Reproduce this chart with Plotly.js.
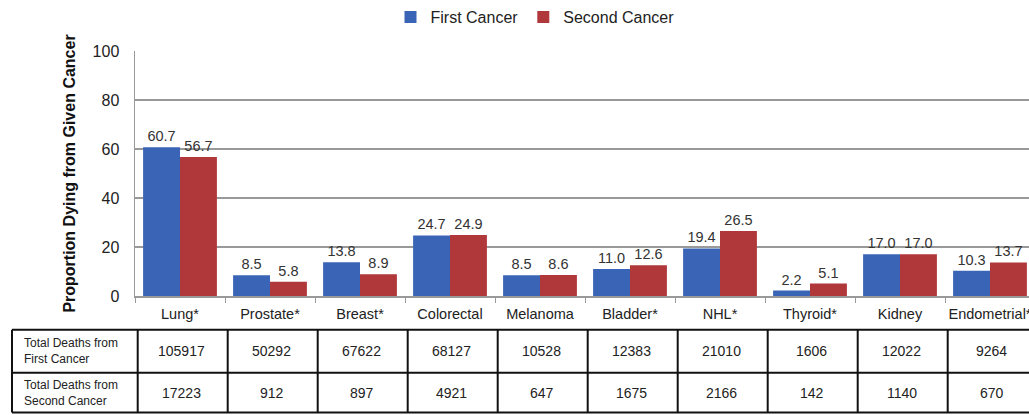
<!DOCTYPE html>
<html><head><meta charset="utf-8">
<script src="https://cdn.plot.ly/plotly-3.0.1.min.js"></script>
<style>html,body{margin:0;padding:0;background:#fff;overflow:hidden;}</style>
</head><body>
<div id="chart" style="width:1029px;height:415px;"></div>
<script>
const categories = ["Lung*", "Prostate*", "Breast*", "Colorectal", "Melanoma", "Bladder*", "NHL*", "Thyroid*", "Kidney", "Endometrial*"];
const firstCancer = [60.7, 8.5, 13.8, 24.7, 8.5, 11.0, 19.4, 2.2, 17.0, 10.3];
const secondCancer = [56.7, 5.8, 8.9, 24.9, 8.6, 12.6, 26.5, 5.1, 17.0, 13.7];
const deathsFirst = [105917, 50292, 67622, 68127, 10528, 12383, 21010, 1606, 12022, 9264];
const deathsSecond = [17223, 912, 897, 4921, 647, 1675, 2166, 142, 1140, 670];
const rowLabels = ["Total Deaths from<br>First Cancer", "Total Deaths from<br>Second Cancer"];
const seriesNames = ["First Cancer", "Second Cancer"];
const yTicks = [0, 20, 40, 60, 80, 100];

const W = 1029, H = 415;
const mL = 135, mT = 50, mB = 119;
const plotW = W - mL, plotH = H - mT - mB;
const catW = 90;
// pixel -> paper helpers
const py = yPx => (H - mB - yPx) / plotH;
const px = xPx => (xPx - mL) / plotW;

const FONT = "Liberation Sans, Arial, sans-serif";
const labelFont = {family: FONT, size: 14.5, color: "#333"};

const traces = [
  {type: "bar", name: seriesNames[0], x: categories, y: firstCancer,
   marker: {color: "#3A64B6"}, texttemplate: "%{y:.1f}", textposition: "outside",
   textfont: labelFont, cliponaxis: false, hoverinfo: "skip"},
  {type: "bar", name: seriesNames[1], x: categories, y: secondCancer,
   marker: {color: "#B0373A"}, texttemplate: "%{y:.1f}", textposition: "outside",
   textfont: labelFont, cliponaxis: false, hoverinfo: "skip"}
];

// table built from the arrays
const tableTop = 330, tableMid = 373, tableBot = 413, tableLeft = 12;
const shapes = [];
const lineStyle = {color: "#111", width: 2};
[tableTop, tableMid, tableBot].forEach(yp => shapes.push({
  type: "line", xref: "paper", yref: "paper", x0: px(tableLeft), x1: 1.01, y0: py(yp), y1: py(yp), line: lineStyle}));
shapes.push({type: "line", xref: "paper", yref: "paper", x0: px(tableLeft), x1: px(tableLeft),
  y0: py(tableTop), y1: py(tableBot), line: lineStyle});
categories.forEach((c, i) => shapes.push({
  type: "line", xref: "x", yref: "paper", x0: i - 0.47, x1: i - 0.47,
  y0: py(tableTop), y1: py(tableBot), line: lineStyle}));

const annotations = [];
const rows = [deathsFirst, deathsSecond];
rows.forEach((vals, r) => {
  const yc = r === 0 ? (tableTop + tableMid) / 2 : (tableMid + tableBot) / 2;
  annotations.push({xref: "paper", yref: "paper", x: px(tableLeft + 10), y: py(yc),
    xanchor: "left", yanchor: "middle", align: "left", showarrow: false,
    text: rowLabels[r], font: {family: FONT, size: 12, color: "#222"}});
  vals.forEach((v, i) => annotations.push({xref: "x", yref: "paper", x: i + 0.02, y: py(yc),
    xanchor: "center", yanchor: "middle", showarrow: false,
    text: String(v), font: {family: FONT, size: 14, color: "#222"}}));
});

const layout = {
  width: W, height: H,
  margin: {l: mL, r: 0, t: mT, b: mB},
  paper_bgcolor: "#fff", plot_bgcolor: "#fff",
  barmode: "group", bargap: 0.18, bargroupgap: 0,
  font: {family: FONT, color: "#222"},
  showlegend: true,
  legend: {orientation: "h", x: px(535), xanchor: "center", y: py(16), yanchor: "middle",
           font: {size: 16, color: "#222"}, tracegroupgap: 0},
  shapes: shapes,
  annotations: annotations,
  xaxis: {range: [-0.5, plotW / catW - 0.5], automargin: false,
          showline: true, linecolor: "#999", linewidth: 1.5,
          ticks: "outside", tickson: "boundaries", ticklen: 5, tickcolor: "#999",
          ticklabelstandoff: 4,
          tickangle: 0, tickfont: {size: 14.5, color: "#222"}, showgrid: false, fixedrange: true},
  yaxis: {range: [0, 100], automargin: false,
          tickvals: yTicks, ticktext: yTicks.map(String),
          showline: true, linecolor: "#999", linewidth: 1.5,
          showgrid: true, gridcolor: "#999", gridwidth: 1.5, zeroline: false,
          ticks: "", ticklabelstandoff: 11,
          tickfont: {size: 16, color: "#222"},
          title: {text: "<b>Proportion Dying from Given Cancer</b>", standoff: 13,
                  font: {size: 16, color: "#111"}}, fixedrange: true}
};

Plotly.newPlot("chart", traces, layout, {displayModeBar: false, staticPlot: true});
</script>
</body></html>
